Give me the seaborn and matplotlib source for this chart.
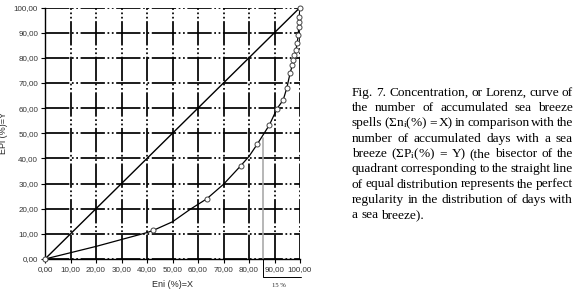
import numpy as np
import pandas as pd
import matplotlib
matplotlib.use("Agg")
import matplotlib.pyplot as plt
import seaborn as sns

# %% Data
# observed points of the Lorenz curve (open circles)
pts_x = [0.0, 42.5, 63.4, 76.7, 83.2, 88.0, 91.0, 93.4, 94.8, 96.1, 97.0, 97.4,
         97.8, 98.4, 98.9, 99.3, 99.5, 99.6, 99.7, 100.0]
pts_y = [0.0, 11.4, 23.9, 37.0, 45.6, 53.3, 59.8, 63.2, 67.9, 73.8, 77.1, 79.1,
         81.1, 83.1, 85.8, 89.1, 92.4, 94.4, 96.3, 100.0]
# smooth curve drawn through them (extra points)
curve_x = [0.0, 20.0, 40.0, 42.5, 50.0, 57.0, 63.4, 70.0, 76.7, 80.0, 83.2, 88.0,
           91.0, 93.4, 94.8, 96.1, 97.0, 97.4, 97.8, 98.4, 98.9, 99.3, 99.5, 99.6, 99.7, 100.0]
curve_y = [0.0, 5.0, 10.5, 11.4, 14.8, 19.8, 23.9, 29.7, 37.0, 40.8, 45.6, 53.3,
           59.8, 63.2, 67.9, 73.8, 77.1, 79.1, 81.1, 83.1, 85.8, 89.1, 92.4, 94.4, 96.3, 100.0]
# line of equal distribution
eq_x = [0, 100]
eq_y = [0, 100]
ticks = list(range(0, 101, 10))
tick_labels = [f"{t},00" for t in ticks]
split_x, split_y = 85.5, 48.0   # 15 % marker
bracket_y = -7.2

caption = [
    "Fig. 7. Concentration, or Lorenz, curve of",
    "the number of accumulated sea breeze",
    r"spells ($\Sigma\mathrm{n}_\mathrm{i}$(%) = X) in comparison with the",
    "number of accumulated days with a sea",
    r"breeze ($\Sigma\mathrm{P}_\mathrm{i}$(%) = Y) (the bisector of the",
    "quadrant corresponding to the straight line",
    "of equal distribution represents the perfect",
    "regularity in the distribution of days with",
    "a sea breeze).",
]

# %% Style
sns.set_theme(style="white")
plt.rcParams["font.family"] = ["Liberation Sans", "DejaVu Sans"]
plt.rcParams["mathtext.fontset"] = "custom"
plt.rcParams["mathtext.rm"] = "Liberation Serif"
plt.rcParams["mathtext.it"] = "Liberation Serif:italic"

fig = plt.figure(figsize=(5.75, 2.91), dpi=100)
ax = fig.add_axes([45 / 575, 32 / 291, 255 / 575, 251.5 / 291])

# %% Plot
grid_ls = (0, (14, 1.5, 1, 1.5, 1, 1.5))
for t in ticks:
    ax.axvline(t, color="black", lw=1.25, ls=grid_ls, zorder=0)
    ax.axhline(t, color="black", lw=1.25, ls=grid_ls, zorder=0)

sns.lineplot(x=eq_x, y=eq_y, ax=ax, color="black", lw=1.0, zorder=2)
sns.lineplot(x=curve_x, y=curve_y, ax=ax, color="black", lw=0.9, sort=False,
             estimator=None, zorder=2)
sns.scatterplot(x=pts_x, y=pts_y, ax=ax, s=13, marker="o", facecolor="white",
                edgecolor="#444444", linewidth=0.7, zorder=3, clip_on=False)

ax.plot([split_x, split_x], [0, split_y], color="#aaaaaa", lw=1.2, zorder=1)
ax.plot([split_x, split_x, 100.5], [0, bracket_y, bracket_y], color="black",
        lw=0.7, clip_on=False)
ax.text(91.8, -10.5, "15 %", fontsize=4.8, family="Liberation Serif",
        ha="center", va="center")

ax.set_xlim(0, 100)
ax.set_ylim(0, 100)
ax.set_xticks(ticks)
ax.set_xticklabels(tick_labels)
ax.set_yticks(ticks)
ax.set_yticklabels(tick_labels)
ax.tick_params(axis="both", labelsize=5.8, labelcolor="#333333", direction="out",
               length=3, width=0.8, color="black", pad=2,
               bottom=True, left=True)
for s in ["top", "right"]:
    ax.spines[s].set_visible(False)
for s in ["left", "bottom"]:
    ax.spines[s].set_color("black")
    ax.spines[s].set_linewidth(1.0)

ax.set_xlabel("Eni (%)=X", fontsize=6.5, labelpad=5)
ax.set_ylabel("EPi (%)=Y", fontsize=6.5, labelpad=4)

# %% Caption, justified
x0, x1 = 352 / 575, 573 / 575
renderer = fig.canvas.get_renderer()
for i, line in enumerate(caption):
    y = 1 - (92.7 + 15.3 * i) / 291
    words = line.split(" ")
    txts = [fig.text(x0, y, w, fontsize=9.6, family="Liberation Serif",
                     ha="left", va="center", color="black") for w in words]
    widths = [t.get_window_extent(renderer).width / fig.bbox.width for t in txts]
    if i == len(caption) - 1:
        gap = 0.0055
    else:
        gap = (x1 - x0 - sum(widths)) / (len(words) - 1)
    pos = x0
    for t, w in zip(txts, widths):
        t.set_x(pos)
        pos += w + gap

fig.savefig("out.png", dpi=100)
